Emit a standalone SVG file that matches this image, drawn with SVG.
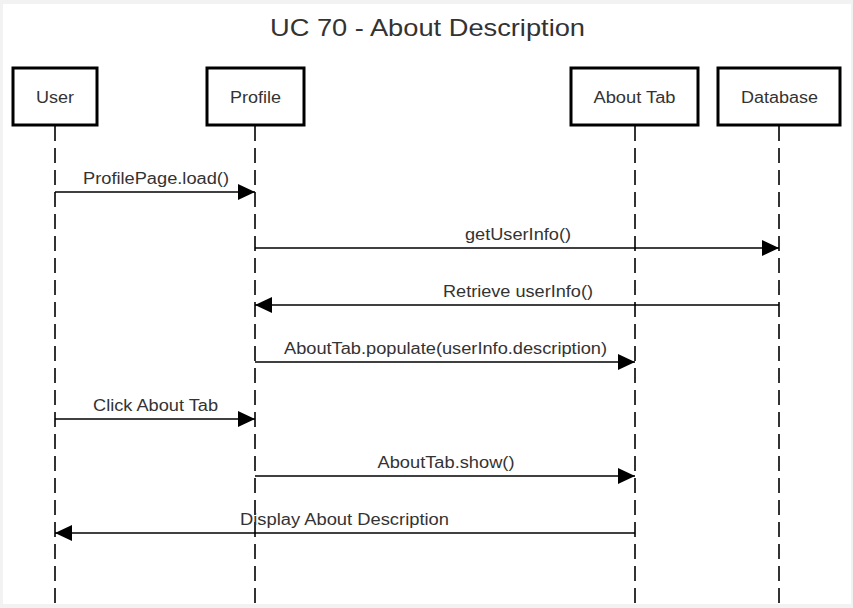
<svg xmlns="http://www.w3.org/2000/svg" width="853" height="608" viewBox="0 0 853 608">
<style>
text{font-family:"Liberation Sans",Arial,sans-serif;fill:#333;}
.lbl{font-size:16px;text-anchor:middle;}
.box{fill:#fff;stroke:#000;stroke-width:3;}
.life{stroke:#333;stroke-width:2;stroke-dasharray:15 7;fill:none;}
.msg{stroke:#000;stroke-width:1.5;fill:none;marker-end:url(#ah);}
</style>
<defs>
<marker id="ah" markerWidth="17" markerHeight="16" refX="17" refY="8" orient="auto" markerUnits="userSpaceOnUse">
<path d="M0,0 L17,8 L0,16 Z" fill="#000"/>
</marker>
</defs>
<rect x="0" y="0" width="853" height="608" fill="#f2f2f2"/>
<rect x="3" y="4" width="848" height="600" fill="#fff"/>
<text x="427.5" y="36" font-size="24" text-anchor="middle" textLength="315" lengthAdjust="spacingAndGlyphs">UC 70 - About Description</text>
<g id="lifelines">
<line class="life" x1="55" y1="126" x2="55" y2="604"/>
<line class="life" x1="255" y1="126" x2="255" y2="604"/>
<line class="life" x1="635" y1="126" x2="635" y2="604"/>
<line class="life" x1="779" y1="126" x2="779" y2="604"/>
</g>
<g id="user"><rect class="box" x="13" y="68" width="84" height="57"/><text class="lbl" x="55" y="103" textLength="38" lengthAdjust="spacingAndGlyphs">User</text></g>
<g id="profile"><rect class="box" x="207" y="68" width="97" height="57"/><text class="lbl" x="255.5" y="103" textLength="51" lengthAdjust="spacingAndGlyphs">Profile</text></g>
<g id="abouttab"><rect class="box" x="571" y="68" width="127" height="57"/><text class="lbl" x="634.5" y="103" textLength="82" lengthAdjust="spacingAndGlyphs">About Tab</text></g>
<g id="database"><rect class="box" x="718" y="68" width="122" height="57"/><text class="lbl" x="779.5" y="103" textLength="77" lengthAdjust="spacingAndGlyphs">Database</text></g>
<g id="connectors">
<line class="msg" x1="55" y1="192" x2="255" y2="192"/>
<text class="lbl" x="156" y="184" textLength="146" lengthAdjust="spacingAndGlyphs">ProfilePage.load()</text>
<line class="msg" x1="255" y1="248" x2="779" y2="248"/>
<text class="lbl" x="518" y="240" textLength="106" lengthAdjust="spacingAndGlyphs">getUserInfo()</text>
<line class="msg" x1="779" y1="305" x2="255" y2="305"/>
<text class="lbl" x="518" y="297" textLength="150" lengthAdjust="spacingAndGlyphs">Retrieve userInfo()</text>
<line class="msg" x1="255" y1="362" x2="635" y2="362"/>
<text class="lbl" x="445.5" y="354" textLength="323" lengthAdjust="spacingAndGlyphs">AboutTab.populate(userInfo.description)</text>
<line class="msg" x1="55" y1="419" x2="255" y2="419"/>
<text class="lbl" x="155.5" y="411" textLength="125" lengthAdjust="spacingAndGlyphs">Click About Tab</text>
<line class="msg" x1="255" y1="476" x2="635" y2="476"/>
<text class="lbl" x="446" y="468" textLength="137" lengthAdjust="spacingAndGlyphs">AboutTab.show()</text>
<line class="msg" x1="635" y1="533" x2="55" y2="533"/>
<text class="lbl" x="344.5" y="525" textLength="209" lengthAdjust="spacingAndGlyphs">Display About Description</text>
</g>
</svg>
